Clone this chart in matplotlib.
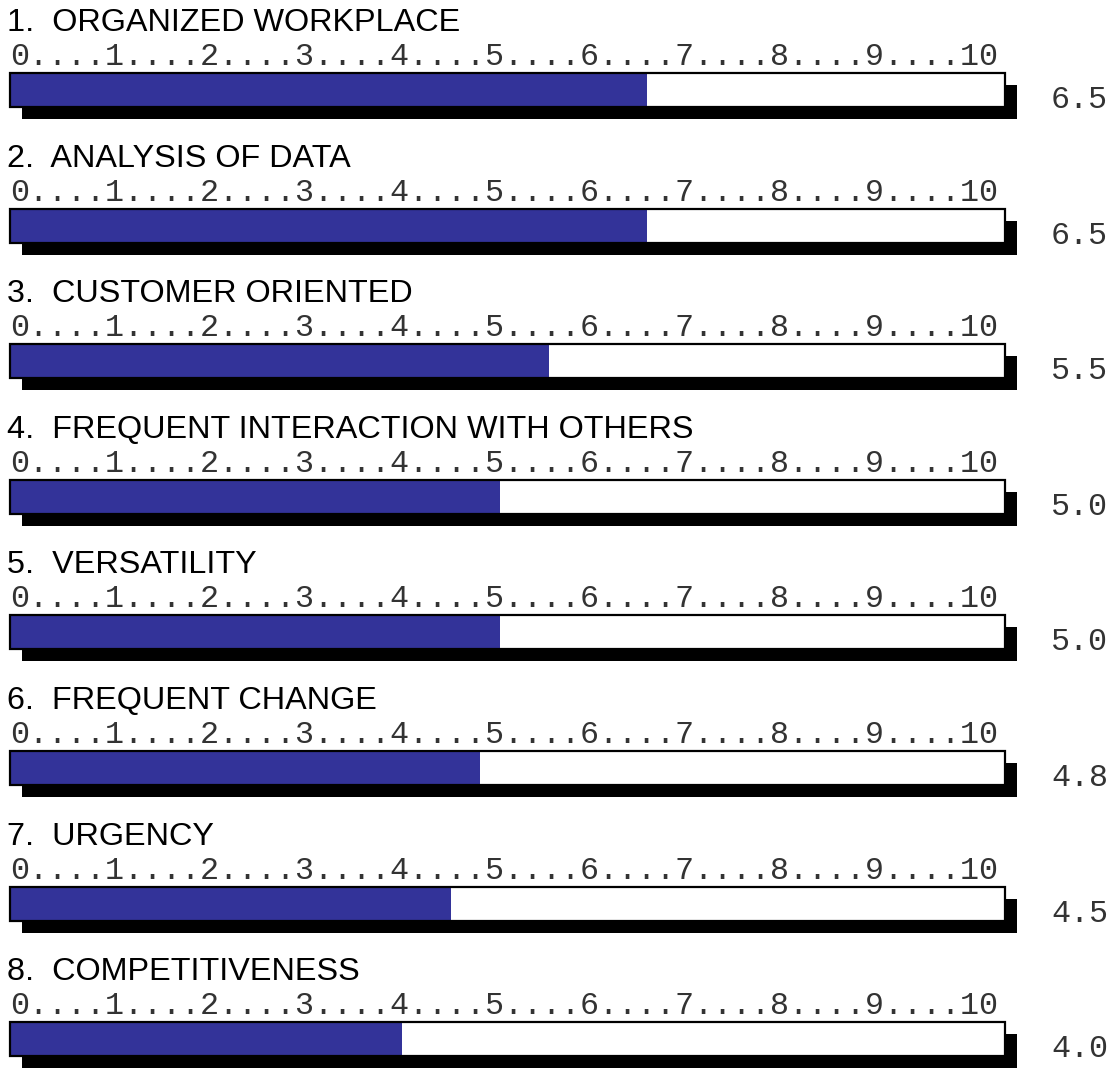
import matplotlib
matplotlib.use("Agg")
import matplotlib.pyplot as plt
from matplotlib.patches import Rectangle

labels = [
    "ORGANIZED WORKPLACE",
    "ANALYSIS OF DATA",
    "CUSTOMER ORIENTED",
    "FREQUENT INTERACTION WITH OTHERS",
    "VERSATILITY",
    "FREQUENT CHANGE",
    "URGENCY",
    "COMPETITIVENESS",
]
scores = [6.5, 6.5, 5.5, 5.0, 5.0, 4.8, 4.5, 4.0]
scale_max = 10

W, H = 1113, 1069
px_per_unit = 98.0
x0_px = 10.0
row_step = 135.6

ruler = "....".join(str(i) for i in range(scale_max + 1))

fig = plt.figure(figsize=(W / 100, H / 100), dpi=100)
ax = fig.add_axes([0, 0, 1, 1])
ax.set_xlim(-x0_px / px_per_unit, (W - x0_px) / px_per_unit)
ax.set_ylim(H, 0)
ax.axis("off")

box_w = 995 / px_per_unit   # outer frame slightly wider than the 0-10 scale
box_h = 34
shadow_dx = 12 / px_per_unit
shadow_dy = 12

for i, (lab, v) in enumerate(zip(labels, scores)):
    top = i * row_step
    ax.text(-3 / px_per_unit, top + 31, f"{i + 1}.  {lab}", fontsize=23.3,
            family="Liberation Sans", va="baseline", ha="left")
    ax.text(0, top + 65, ruler, fontsize=22.85, family="Liberation Mono",
            va="baseline", ha="left", color="#333333")

    bar_top = top + 73
    # drop shadow behind the frame
    ax.add_patch(Rectangle((shadow_dx, bar_top + shadow_dy), box_w, box_h,
                           facecolor="black", edgecolor="none", zorder=1))
    ax.add_patch(Rectangle((0, bar_top), box_w, box_h,
                           facecolor="white", edgecolor="none", zorder=2))
    ax.add_patch(Rectangle((0, bar_top), v, box_h,
                           facecolor="#333399", edgecolor="none", zorder=3))
    ax.add_patch(Rectangle((0, bar_top), box_w, box_h,
                           facecolor="none", edgecolor="black", linewidth=1.6,
                           zorder=4))
    ax.text(1098 / px_per_unit, bar_top + 35, f"{v:.1f}", fontsize=22.85,
            family="Liberation Mono", va="baseline", ha="right",
            color="#333333")

fig.savefig("out.png", dpi=100)
